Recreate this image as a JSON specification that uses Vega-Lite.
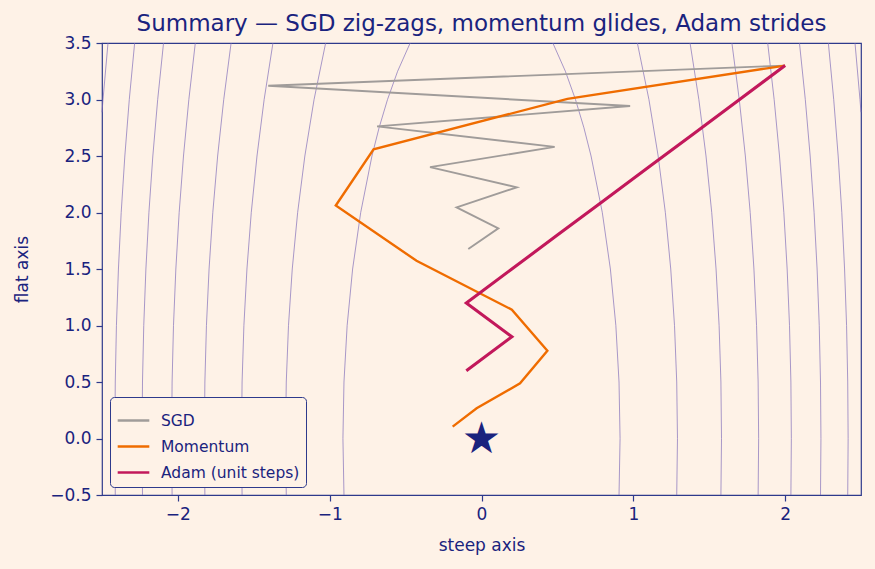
{
  "$schema": "https://vega.github.io/schema/vega-lite/v6.json",
  "autosize": {"type": "none"},
  "padding": {"left": 102, "top": 43, "right": 14, "bottom": 74},
  "width": 759,
  "height": 452,
  "background": "#fef2e7",
  "config": {
    "font": "DejaVu Sans",
    "view": {"stroke": "#2e3a8c", "strokeWidth": 1.2},
    "axis": {
      "grid": false,
      "domain": false,
      "tickColor": "#2e3a8c",
      "tickWidth": 1.2,
      "tickSize": 6,
      "labelColor": "#1a237e",
      "labelFontSize": 17,
      "labelPadding": 5,
      "titleColor": "#1a237e",
      "titleFontSize": 17,
      "titleFontWeight": "normal"
    },
    "legend": {
      "orient": "bottom-left",
      "offset": 8,
      "symbolType": "stroke",
      "symbolSize": 1000,
      "symbolStrokeWidth": 2.6,
      "labelFontSize": 15.5,
      "labelColor": "#1a237e",
      "fillColor": "#fef2e7",
      "strokeColor": "#2e3a8c",
      "cornerRadius": 4,
      "padding": 6,
      "rowPadding": -5.5,
      "labelOffset": 10
    }
  },
  "title": {
    "text": "Summary — SGD zig-zags, momentum glides, Adam strides",
    "fontSize": 23,
    "fontWeight": "normal",
    "color": "#1a237e",
    "offset": -2
  },
  "layer": [
    {
      "data": {
        "values": [
          {"c": "1R", "x": 0.906, "y": -0.5}, {"c": "1R", "x": 0.9129, "y": 0}, {"c": "1R", "x": 0.906, "y": 0.5}, {"c": "1R", "x": 0.8851, "y": 1}, {"c": "1R", "x": 0.849, "y": 1.5}, {"c": "1R", "x": 0.7958, "y": 2}, {"c": "1R", "x": 0.7217, "y": 2.5}, {"c": "1R", "x": 0.6747, "y": 2.75}, {"c": "1R", "x": 0.6191, "y": 3}, {"c": "1R", "x": 0.5525, "y": 3.25}, {"c": "1R", "x": 0.4699, "y": 3.5},
          {"c": "1L", "x": -0.906, "y": -0.5}, {"c": "1L", "x": -0.9129, "y": 0}, {"c": "1L", "x": -0.906, "y": 0.5}, {"c": "1L", "x": -0.8851, "y": 1}, {"c": "1L", "x": -0.849, "y": 1.5}, {"c": "1L", "x": -0.7958, "y": 2}, {"c": "1L", "x": -0.7217, "y": 2.5}, {"c": "1L", "x": -0.6747, "y": 2.75}, {"c": "1L", "x": -0.6191, "y": 3}, {"c": "1L", "x": -0.5525, "y": 3.25}, {"c": "1L", "x": -0.4699, "y": 3.5},
          {"c": "2R", "x": 1.2861, "y": -0.5}, {"c": "2R", "x": 1.291, "y": 0}, {"c": "2R", "x": 1.2861, "y": 0.5}, {"c": "2R", "x": 1.2715, "y": 1}, {"c": "2R", "x": 1.2467, "y": 1.5}, {"c": "2R", "x": 1.2111, "y": 2}, {"c": "2R", "x": 1.1637, "y": 2.5}, {"c": "2R", "x": 1.103, "y": 3}, {"c": "2R", "x": 1.0267, "y": 3.5},
          {"c": "2L", "x": -1.2861, "y": -0.5}, {"c": "2L", "x": -1.291, "y": 0}, {"c": "2L", "x": -1.2861, "y": 0.5}, {"c": "2L", "x": -1.2715, "y": 1}, {"c": "2L", "x": -1.2467, "y": 1.5}, {"c": "2L", "x": -1.2111, "y": 2}, {"c": "2L", "x": -1.1637, "y": 2.5}, {"c": "2L", "x": -1.103, "y": 3}, {"c": "2L", "x": -1.0267, "y": 3.5},
          {"c": "3R", "x": 1.5772, "y": -0.5}, {"c": "3R", "x": 1.5811, "y": 0}, {"c": "3R", "x": 1.5772, "y": 0.5}, {"c": "3R", "x": 1.5652, "y": 1}, {"c": "3R", "x": 1.5452, "y": 1.5}, {"c": "3R", "x": 1.5166, "y": 2}, {"c": "3R", "x": 1.479, "y": 2.5}, {"c": "3R", "x": 1.4318, "y": 3}, {"c": "3R", "x": 1.3739, "y": 3.5},
          {"c": "3L", "x": -1.5772, "y": -0.5}, {"c": "3L", "x": -1.5811, "y": 0}, {"c": "3L", "x": -1.5772, "y": 0.5}, {"c": "3L", "x": -1.5652, "y": 1}, {"c": "3L", "x": -1.5452, "y": 1.5}, {"c": "3L", "x": -1.5166, "y": 2}, {"c": "3L", "x": -1.479, "y": 2.5}, {"c": "3L", "x": -1.4318, "y": 3}, {"c": "3L", "x": -1.3739, "y": 3.5},
          {"c": "4R", "x": 1.8223, "y": -0.5}, {"c": "4R", "x": 1.8257, "y": 0}, {"c": "4R", "x": 1.8223, "y": 0.5}, {"c": "4R", "x": 1.812, "y": 1}, {"c": "4R", "x": 1.7947, "y": 1.5}, {"c": "4R", "x": 1.7701, "y": 2}, {"c": "4R", "x": 1.7381, "y": 2.5}, {"c": "4R", "x": 1.698, "y": 3}, {"c": "4R", "x": 1.6495, "y": 3.5},
          {"c": "4L", "x": -1.8223, "y": -0.5}, {"c": "4L", "x": -1.8257, "y": 0}, {"c": "4L", "x": -1.8223, "y": 0.5}, {"c": "4L", "x": -1.812, "y": 1}, {"c": "4L", "x": -1.7947, "y": 1.5}, {"c": "4L", "x": -1.7701, "y": 2}, {"c": "4L", "x": -1.7381, "y": 2.5}, {"c": "4L", "x": -1.698, "y": 3}, {"c": "4L", "x": -1.6495, "y": 3.5},
          {"c": "5R", "x": 2.0382, "y": -0.5}, {"c": "5R", "x": 2.0412, "y": 0}, {"c": "5R", "x": 2.0382, "y": 0.5}, {"c": "5R", "x": 2.029, "y": 1}, {"c": "5R", "x": 2.0135, "y": 1.5}, {"c": "5R", "x": 1.9917, "y": 2}, {"c": "5R", "x": 1.9632, "y": 2.5}, {"c": "5R", "x": 1.9279, "y": 3}, {"c": "5R", "x": 1.8853, "y": 3.5},
          {"c": "5L", "x": -2.0382, "y": -0.5}, {"c": "5L", "x": -2.0412, "y": 0}, {"c": "5L", "x": -2.0382, "y": 0.5}, {"c": "5L", "x": -2.029, "y": 1}, {"c": "5L", "x": -2.0135, "y": 1.5}, {"c": "5L", "x": -1.9917, "y": 2}, {"c": "5L", "x": -1.9632, "y": 2.5}, {"c": "5L", "x": -1.9279, "y": 3}, {"c": "5L", "x": -1.8853, "y": 3.5},
          {"c": "6R", "x": 2.2333, "y": -0.5}, {"c": "6R", "x": 2.2361, "y": 0}, {"c": "6R", "x": 2.2333, "y": 0.5}, {"c": "6R", "x": 2.2249, "y": 1}, {"c": "6R", "x": 2.2108, "y": 1.5}, {"c": "6R", "x": 2.1909, "y": 2}, {"c": "6R", "x": 2.1651, "y": 2.5}, {"c": "6R", "x": 2.1331, "y": 3}, {"c": "6R", "x": 2.0946, "y": 3.5},
          {"c": "6L", "x": -2.2333, "y": -0.5}, {"c": "6L", "x": -2.2361, "y": 0}, {"c": "6L", "x": -2.2333, "y": 0.5}, {"c": "6L", "x": -2.2249, "y": 1}, {"c": "6L", "x": -2.2108, "y": 1.5}, {"c": "6L", "x": -2.1909, "y": 2}, {"c": "6L", "x": -2.1651, "y": 2.5}, {"c": "6L", "x": -2.1331, "y": 3}, {"c": "6L", "x": -2.0946, "y": 3.5},
          {"c": "7R", "x": 2.4126, "y": -0.5}, {"c": "7R", "x": 2.4152, "y": 0}, {"c": "7R", "x": 2.4126, "y": 0.5}, {"c": "7R", "x": 2.4049, "y": 1}, {"c": "7R", "x": 2.3918, "y": 1.5}, {"c": "7R", "x": 2.3735, "y": 2}, {"c": "7R", "x": 2.3496, "y": 2.5}, {"c": "7R", "x": 2.3202, "y": 3}, {"c": "7R", "x": 2.2849, "y": 3.5},
          {"c": "7L", "x": -2.4126, "y": -0.5}, {"c": "7L", "x": -2.4152, "y": 0}, {"c": "7L", "x": -2.4126, "y": 0.5}, {"c": "7L", "x": -2.4049, "y": 1}, {"c": "7L", "x": -2.3918, "y": 1.5}, {"c": "7L", "x": -2.3735, "y": 2}, {"c": "7L", "x": -2.3496, "y": 2.5}, {"c": "7L", "x": -2.3202, "y": 3}, {"c": "7L", "x": -2.2849, "y": 3.5},
          {"c": "8R", "x": 2.5, "y": 2.887}, {"c": "8R", "x": 2.4933, "y": 3}, {"c": "8R", "x": 2.4605, "y": 3.5},
          {"c": "8L", "x": -2.5, "y": 2.887}, {"c": "8L", "x": -2.4933, "y": 3}, {"c": "8L", "x": -2.4605, "y": 3.5}
        ]
      },
      "mark": {"type": "line", "color": "#7e6bb8", "strokeWidth": 0.8, "opacity": 0.85},
      "encoding": {
        "x": {"field": "x", "type": "quantitative", "scale": {"domain": [-2.5, 2.5]}, "title": "steep axis",
              "axis": {"values": [-2, -1, 0, 1, 2], "format": ".0f", "titlePadding": 15}},
        "y": {"field": "y", "type": "quantitative", "scale": {"domain": [-0.5, 3.5]}, "title": "flat axis",
              "axis": {"values": [-0.5, 0, 0.5, 1, 1.5, 2, 2.5, 3, 3.5], "format": ".1f", "titlePadding": 18}},
        "detail": {"field": "c", "type": "nominal"},
        "order": {"field": "y", "type": "quantitative"}
      }
    },
    {
      "data": {
        "values": [
          {"m": "SGD", "i": 0, "x": 2.0, "y": 3.3},
          {"m": "SGD", "i": 1, "x": -1.405, "y": 3.122},
          {"m": "SGD", "i": 2, "x": 0.979, "y": 2.942},
          {"m": "SGD", "i": 3, "x": -0.688, "y": 2.762},
          {"m": "SGD", "i": 4, "x": 0.482, "y": 2.581},
          {"m": "SGD", "i": 5, "x": -0.339, "y": 2.402},
          {"m": "SGD", "i": 6, "x": 0.232, "y": 2.223},
          {"m": "SGD", "i": 7, "x": -0.164, "y": 2.045},
          {"m": "SGD", "i": 8, "x": 0.111, "y": 1.86},
          {"m": "SGD", "i": 9, "x": -0.087, "y": 1.677}
        ]
      },
      "mark": {"type": "line", "strokeWidth": 1.9},
      "encoding": {
        "x": {"field": "x", "type": "quantitative"},
        "y": {"field": "y", "type": "quantitative"},
        "order": {"field": "i", "type": "quantitative"},
        "color": {"field": "m", "type": "nominal", "scale": {"domain": ["SGD", "Momentum", "Adam (unit steps)"], "range": ["#a09c9a", "#ef6c00", "#c2185b"]}, "legend": {"title": null}}
      }
    },
    {
      "data": {
        "values": [
          {"m": "Momentum", "i": 0, "x": 2.0, "y": 3.3},
          {"m": "Momentum", "i": 1, "x": 0.566, "y": 3.005},
          {"m": "Momentum", "i": 2, "x": -0.711, "y": 2.559},
          {"m": "Momentum", "i": 3, "x": -0.96, "y": 2.062},
          {"m": "Momentum", "i": 4, "x": -0.428, "y": 1.573},
          {"m": "Momentum", "i": 5, "x": 0.2, "y": 1.14},
          {"m": "Momentum", "i": 6, "x": 0.434, "y": 0.777},
          {"m": "Momentum", "i": 7, "x": 0.254, "y": 0.488},
          {"m": "Momentum", "i": 8, "x": -0.032, "y": 0.267},
          {"m": "Momentum", "i": 9, "x": -0.19, "y": 0.105}
        ]
      },
      "mark": {"type": "line", "strokeWidth": 2.4},
      "encoding": {
        "x": {"field": "x", "type": "quantitative"},
        "y": {"field": "y", "type": "quantitative"},
        "order": {"field": "i", "type": "quantitative"},
        "color": {"field": "m", "type": "nominal", "scale": {"domain": ["SGD", "Momentum", "Adam (unit steps)"], "range": ["#a09c9a", "#ef6c00", "#c2185b"]}, "legend": {"title": null}}
      }
    },
    {
      "data": {
        "values": [
          {"m": "Adam (unit steps)", "i": 0, "x": 2.0, "y": 3.3},
          {"m": "Adam (unit steps)", "i": 1, "x": 1.7, "y": 3.0},
          {"m": "Adam (unit steps)", "i": 2, "x": 1.4, "y": 2.7},
          {"m": "Adam (unit steps)", "i": 3, "x": 1.1, "y": 2.4},
          {"m": "Adam (unit steps)", "i": 4, "x": 0.8, "y": 2.1},
          {"m": "Adam (unit steps)", "i": 5, "x": 0.5, "y": 1.8},
          {"m": "Adam (unit steps)", "i": 6, "x": 0.2, "y": 1.5},
          {"m": "Adam (unit steps)", "i": 7, "x": -0.1, "y": 1.2},
          {"m": "Adam (unit steps)", "i": 8, "x": 0.2, "y": 0.9},
          {"m": "Adam (unit steps)", "i": 9, "x": -0.1, "y": 0.6}
        ]
      },
      "mark": {"type": "line", "strokeWidth": 3.1},
      "encoding": {
        "x": {"field": "x", "type": "quantitative"},
        "y": {"field": "y", "type": "quantitative"},
        "order": {"field": "i", "type": "quantitative"},
        "color": {"field": "m", "type": "nominal", "scale": {"domain": ["SGD", "Momentum", "Adam (unit steps)"], "range": ["#a09c9a", "#ef6c00", "#c2185b"]}, "legend": {"title": null}}
      }
    },
    {
      "data": {"values": [{"x": 0, "y": 0, "s": "★"}]},
      "mark": {"type": "text", "color": "#1a237e", "fontSize": 44, "baseline": "middle", "align": "center", "dy": 1},
      "encoding": {
        "x": {"field": "x", "type": "quantitative"},
        "y": {"field": "y", "type": "quantitative"},
        "text": {"field": "s"}
      }
    }
  ]
}
